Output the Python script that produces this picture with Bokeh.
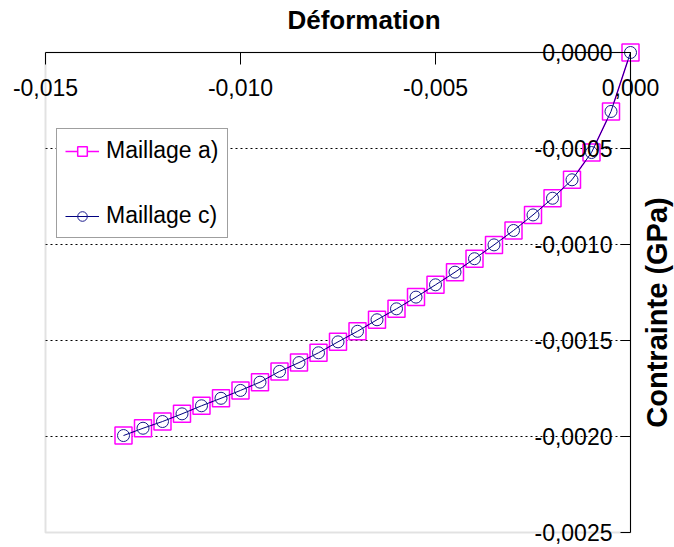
from bokeh.plotting import figure
from bokeh.models import (Range1d, FixedTicker, CustomJSTickFormatter, Label,
                          Legend, LegendItem, BoxAnnotation)
from bokeh.embed import file_html
from bokeh.resources import INLINE

# ---- data ----
deformation = [0.0, -0.0005, -0.0010, -0.0015, -0.0020, -0.0025, -0.0030,
               -0.0035, -0.0040, -0.0045, -0.0050, -0.0055, -0.0060, -0.0065,
               -0.0070, -0.0075, -0.0080, -0.0085, -0.0090, -0.0095, -0.0100,
               -0.0105, -0.0110, -0.0115, -0.0120, -0.0125, -0.0130]
contrainte_a = [0.0, -0.000307, -0.000521, -0.000663, -0.000759, -0.000846,
                -0.000927, -0.001002, -0.001074, -0.001144, -0.001210,
                -0.001274, -0.001335, -0.001392, -0.001452, -0.001507,
                -0.001564, -0.001615, -0.001661, -0.001717, -0.001760,
                -0.001801, -0.001840, -0.001882, -0.001922, -0.001957,
                -0.001995]
contrainte_c = [0.0, -0.000307, -0.000521, -0.000663, -0.000759, -0.000846,
                -0.000927, -0.001002, -0.001074, -0.001144, -0.001210,
                -0.001274, -0.001335, -0.001392, -0.001452, -0.001507,
                -0.001564, -0.001615, -0.001661, -0.001717, -0.001760,
                -0.001801, -0.001840, -0.001882, -0.001922, -0.001957,
                -0.001995]
x_ticks = [-0.015, -0.010, -0.005, 0.0]
y_ticks = [0.0, -0.0005, -0.0010, -0.0015, -0.0020, -0.0025]
grid_ticks = [-0.0005, -0.0010, -0.0015, -0.0020]
series_names = ["Maillage a)", "Maillage c)"]
x_title = "Déformation"
y_title = "Contrainte (GPa)"

FONT = "Liberation Sans"
W, H = 674, 547

# plotting area inside the canvas (pixels) and the data extents it shows
X0, X1 = -0.015, 0.0
Y0, Y1 = -0.0025, 0.0
left_px, right_px, top_px, bottom_px = 45, 630, 52, 532
sx = (right_px - left_px) / (X1 - X0)
sy = (bottom_px - top_px) / (Y1 - Y0)
x_range = Range1d(X0 - left_px / sx, X1 + (W - right_px) / sx)
y_range = Range1d(Y0 - (H - bottom_px) / sy, Y1 + top_px / sy)

p = figure(width=W, height=H, output_backend="svg", toolbar_location=None,
           x_range=x_range, y_range=y_range,
           min_border_left=0, min_border_right=0, min_border_top=0,
           min_border_bottom=0)
p.background_fill_color = "white"
p.border_fill_color = "white"
p.outline_line_color = None
p.xgrid.visible = False
p.ygrid.visible = False

# plotting-area border (grey)
p.add_layout(BoxAnnotation(left=X0, right=X1, bottom=Y0, top=Y1,
                           fill_alpha=0, line_color="#a0a0a0", line_width=2,
                           level="underlay"))

# dotted horizontal grid lines
p.segment(x0=[X0] * len(grid_ticks), x1=[X1] * len(grid_ticks),
          y0=grid_ticks, y1=grid_ticks, line_color="black",
          line_dash="2 3", line_width=1, level="underlay")

# axes placed at the data origin (top / right of the plotting area)
xa = p.xaxis[0]
xa.fixed_location = 0.0
xa.bounds = (X0, X1)
xa.ticker = FixedTicker(ticks=x_ticks)
xa.formatter = CustomJSTickFormatter(code="return tick.toFixed(3).replace('.', ',')")
xa.major_tick_in = 0
xa.major_tick_out = 12
xa.minor_tick_line_color = None
xa.major_label_standoff = 14
xa.axis_line_color = "black"
xa.major_tick_line_color = "black"
xa.major_label_text_font = FONT
xa.major_label_text_font_size = "23px"
xa.major_label_text_color = "black"

ya = p.yaxis[0]
ya.fixed_location = 0.0
ya.bounds = (Y0, Y1)
ya.ticker = FixedTicker(ticks=y_ticks)
ya.formatter = CustomJSTickFormatter(code="return tick.toFixed(4).replace('.', ',')")
ya.major_tick_in = 0
ya.major_tick_out = 10
ya.minor_tick_line_color = None
ya.major_label_standoff = 8
ya.axis_line_color = "black"
ya.major_tick_line_color = "black"
ya.major_label_text_font = FONT
ya.major_label_text_font_size = "23px"
ya.major_label_text_color = "black"

# series
la = p.line(deformation, contrainte_a, line_color="#FF00FF", line_width=1.5)
sa = p.scatter(deformation, contrainte_a, marker="square", size=17,
               line_color="#FF00FF", line_width=1.5, fill_color="white")
lc = p.line(deformation, contrainte_c, line_color="#000080", line_width=1)
sc = p.scatter(deformation, contrainte_c, marker="circle", size=12,
               line_color="#1a1a8c", line_width=1, fill_color=None)

legend = Legend(items=[LegendItem(label=series_names[0], renderers=[la, sa]),
                       LegendItem(label=series_names[1], renderers=[lc, sc])],
                location=(56, H - 238), orientation="vertical")
legend.label_text_font = FONT
legend.label_text_font_size = "23px"
legend.label_text_color = "black"
legend.glyph_width = 34
legend.glyph_height = 24
legend.label_height = 24
legend.label_standoff = 7
legend.spacing = 38
legend.padding = 8
legend.margin = 0
legend.border_line_color = "#404040"
legend.border_line_width = 1
legend.background_fill_color = "white"
legend.background_fill_alpha = 1
p.add_layout(legend, "center")

# axis titles
p.add_layout(Label(x=(X0 + X1) / 2, y=Y1, x_offset=26, y_offset=33,
                   text=x_title, text_align="center", text_baseline="middle",
                   text_font=FONT, text_font_size="26px",
                   text_font_style="bold", text_color="black"))
p.add_layout(Label(x=X1, y=-0.001354, x_offset=26, text=y_title,
                   angle=90, angle_units="deg",
                   text_align="center", text_baseline="middle",
                   text_font=FONT, text_font_size="29px",
                   text_font_style="bold", text_color="black"))

open("out.html", "w").write(file_html(p, INLINE))
